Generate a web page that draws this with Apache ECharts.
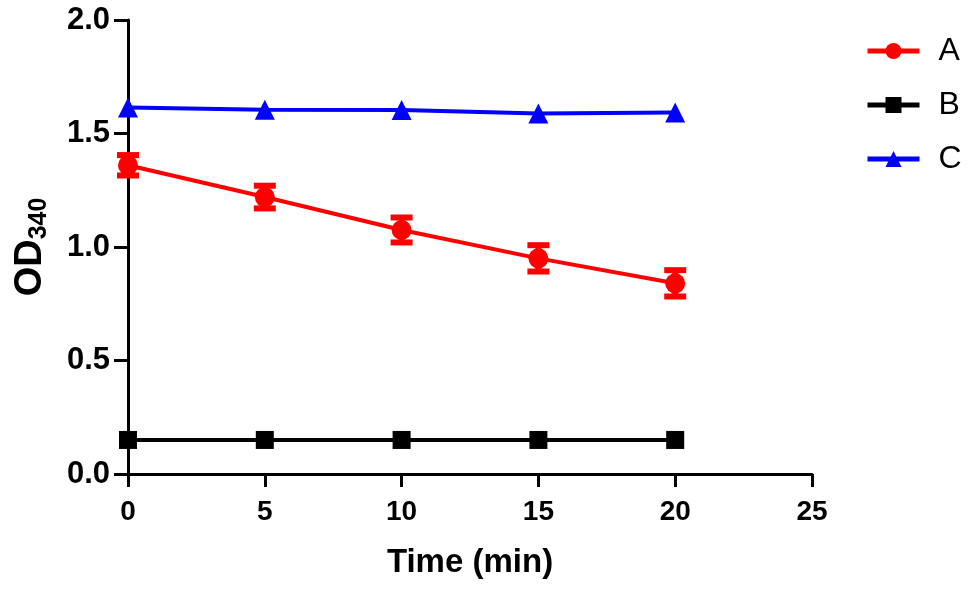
<!DOCTYPE html>
<html lang="en">
<head>
    <meta charset="UTF-8">
    <title>OD340</title>
    <script type="text/javascript" src="https://cdn.jsdelivr.net/npm/echarts@6/dist/echarts.min.js"></script>
</head>
<body style="margin: 0; background: #fff;">
<div id="container" style="width: 975px; height: 590px;"></div>
<script type="text/javascript">
    // values
    var times = [0, 5, 10, 15, 20];
    var seriesA = [1.36, 1.22, 1.075, 0.95, 0.84];
    var errA = [0.045, 0.05, 0.055, 0.058, 0.058];
    var seriesB = [0.15, 0.15, 0.15, 0.15, 0.15];
    var seriesC = [1.615, 1.605, 1.603, 1.588, 1.593];
    var xTicks = [0, 5, 10, 15, 20, 25];
    var yTicks = [0, 0.5, 1.0, 1.5, 2.0];

    function pairs(vals) {
        var out = [];
        for (var i = 0; i < times.length; i++) out.push([times[i], vals[i]]);
        return out;
    }

    var errData = [];
    for (var i = 0; i < times.length; i++) {
        errData.push([times[i], seriesA[i] - errA[i], seriesA[i] + errA[i]]);
    }

    var dom = document.getElementById("container");
    var myChart = echarts.init(dom);

    var option = {
        animation: false,
        grid: {left: 128, right: 163, top: 20, bottom: 116},
        legend: {
            orient: 'vertical',
            left: 860,
            top: 30,
            itemWidth: 52,
            itemHeight: 20,
            itemGap: 22,
            lineStyle: {width: 5},
            textStyle: {fontFamily: 'Liberation Sans', fontSize: 32, color: '#000', padding: [0, 0, 0, 14]},
            data: ['A', 'B', 'C']
        },
        xAxis: {
            type: 'value',
            min: 0,
            max: 25,
            interval: 5,
            name: 'Time (min)',
            nameLocation: 'middle',
            nameGap: 72,
            nameTextStyle: {fontFamily: 'Liberation Sans', fontWeight: 'bold', fontSize: 33, color: '#000'},
            axisLine: {show: true, onZero: false, lineStyle: {color: '#000', width: 3}},
            axisTick: {show: true, length: 13, lineStyle: {color: '#000', width: 3}},
            axisLabel: {
                fontFamily: 'Liberation Sans', fontWeight: 'bold', fontSize: 28, color: '#000', margin: 24,
                formatter: function (v) { return xTicks.indexOf(v) >= 0 ? String(v) : ''; }
            },
            splitLine: {show: false}
        },
        yAxis: {
            type: 'value',
            min: 0,
            max: 2.0,
            interval: 0.5,
            name: '{a|OD}{b|340}',
            nameLocation: 'middle',
            nameRotate: 90,
            nameGap: 76,
            nameTextStyle: {
                rich: {
                    a: {fontFamily: 'Liberation Sans', fontWeight: 'bold', fontSize: 38, color: '#000'},
                    b: {fontFamily: 'Liberation Sans', fontWeight: 'bold', fontSize: 25, color: '#000', padding: [17, 0, 0, 0]}
                }
            },
            axisLine: {show: true, onZero: false, lineStyle: {color: '#000', width: 3}},
            axisTick: {show: true, length: 14, lineStyle: {color: '#000', width: 3}},
            axisLabel: {
                fontFamily: 'Liberation Sans', fontWeight: 'bold', fontSize: 31, color: '#000', margin: 18,
                formatter: function (v) {
                    for (var k = 0; k < yTicks.length; k++) if (Math.abs(yTicks[k] - v) < 1e-6) return v.toFixed(1);
                    return '';
                }
            },
            splitLine: {show: false}
        },
        series: [
            {
                name: 'A',
                type: 'line',
                data: pairs(seriesA),
                symbol: 'circle',
                symbolSize: 20,
                itemStyle: {color: '#ff0000'},
                lineStyle: {color: '#ff0000', width: 4},
                z: 3
            },
            {
                name: 'B',
                type: 'line',
                data: pairs(seriesB),
                symbol: 'rect',
                symbolSize: 18,
                itemStyle: {color: '#000'},
                lineStyle: {color: '#000', width: 4},
                z: 3
            },
            {
                name: 'C',
                type: 'line',
                data: pairs(seriesC),
                symbol: 'triangle',
                symbolSize: 20,
                itemStyle: {color: '#0000ff'},
                lineStyle: {color: '#0000ff', width: 4},
                z: 3
            },
            {
                name: 'errA',
                type: 'custom',
                data: errData,
                z: 4,
                renderItem: function (params, api) {
                    var x = api.value(0);
                    var lo = api.coord([x, api.value(1)]);
                    var hi = api.coord([x, api.value(2)]);
                    var w = 11;
                    var st = {stroke: '#ff0000', lineWidth: 6};
                    return {
                        type: 'group',
                        children: [
                            {type: 'line', shape: {x1: lo[0], y1: lo[1], x2: hi[0], y2: hi[1]}, style: st},
                            {type: 'line', shape: {x1: lo[0] - w, y1: lo[1], x2: lo[0] + w, y2: lo[1]}, style: st},
                            {type: 'line', shape: {x1: hi[0] - w, y1: hi[1], x2: hi[0] + w, y2: hi[1]}, style: st}
                        ]
                    };
                }
            }
        ]
    };
    myChart.setOption(option);
</script>
</body>
</html>
